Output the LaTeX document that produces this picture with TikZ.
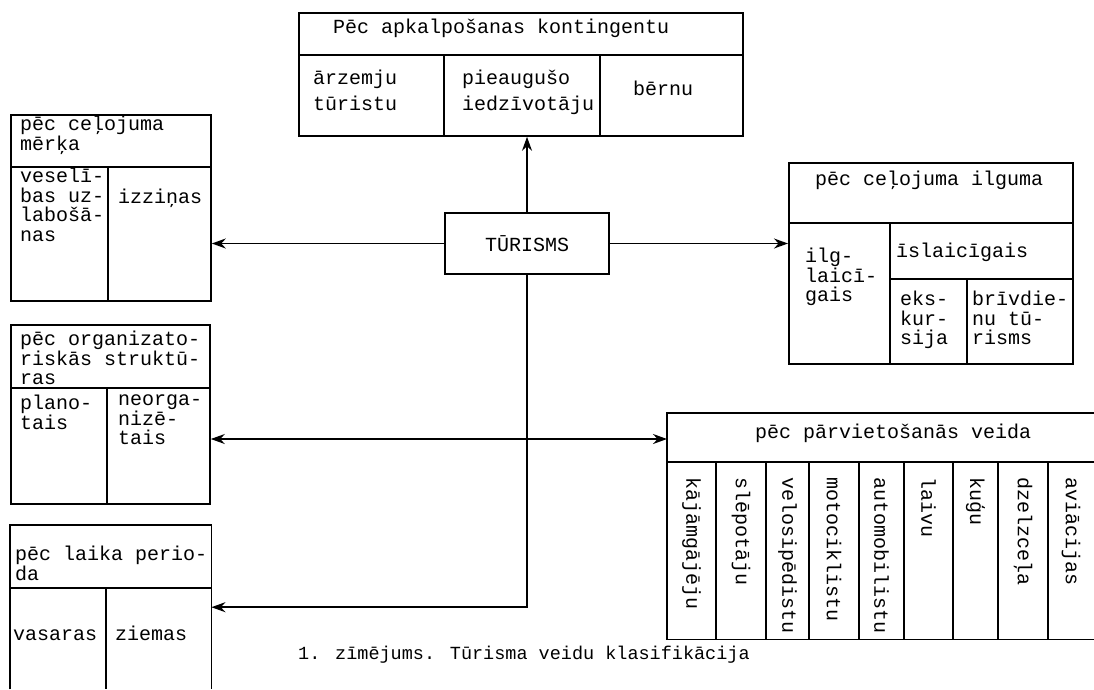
\documentclass[tikz,border=0pt]{standalone}
\usepackage{fontspec}
\setmainfont{Liberation Mono}
\usetikzlibrary{arrows.meta}
\newcommand{\tw}{\fontsize{20}{19.5}\selectfont}
\newcommand{\twcap}{\fontsize{18.5}{19.5}\selectfont}
\tikzset{
  >={Stealth[length=14pt,width=10pt]},
  frame/.style={draw, line width=1.8pt, inner sep=0pt, anchor=north west},
  openframe/.style={inner sep=0pt, anchor=north west},
  sep/.style={line width=1.8pt},
  link/.style={line width=1.8pt, ->},
  txt/.style={font=\tw, align=left, inner sep=0pt, anchor=north west,
    execute at begin node=\rule{0pt}{17pt}},
  vtxt/.style={font=\tw, inner sep=0pt, anchor=west, rotate=-90}
}
\begin{document}
\begin{tikzpicture}[x=1pt, y=-1pt]
  \useasboundingbox (0,0) rectangle (1094,689);

  \node[frame, minimum width=444pt, minimum height=123pt] (kont) at (298,12) {};
  \node[frame, minimum width=200pt, minimum height=186pt] (merkis) at (10,114) {};
  \node[frame, minimum width=199pt, minimum height=179pt] (organiz) at (10,324) {};
  \node[openframe, minimum width=201pt, minimum height=164pt] (laiks) at (10,525) {};
  \node[frame, minimum width=284pt, minimum height=201pt] (ilgums) at (788,162) {};
  \node[openframe, minimum width=427pt, minimum height=226pt] (parv) at (667,413) {};
  \node[draw, line width=1.8pt, font=\tw, minimum width=164pt, minimum height=61pt] (turisms) at (527,243.5) {TŪRISMS};

  \draw[sep] (laiks.south west) -- (laiks.north west) -- (laiks.north east) -- (laiks.south east);
  \draw[sep] (parv.north east) -- (parv.north west) -- (parv.south west) -- (parv.south east);

  \draw[sep] (298,55) -- (742,55);
  \draw[sep] (444,55) -- (444,135);
  \draw[sep] (600,55) -- (600,135);
  \draw[sep] (10,167) -- (210,167);
  \draw[sep] (108,167) -- (108,300);
  \draw[sep] (10,388) -- (209,388);
  \draw[sep] (107,388) -- (107,503);
  \draw[sep] (10,588) -- (211,588);
  \draw[sep] (106,588) -- (106,689);
  \draw[sep] (788,223) -- (1072,223);
  \draw[sep] (890,223) -- (890,363);
  \draw[sep] (890,279) -- (1072,279);
  \draw[sep] (967,279) -- (967,363);
  \draw[sep] (667,462) -- (1094,462);
  \foreach \xd in {716,766,809,859,904,953,998,1048}
    \draw[sep] (\xd,462) -- (\xd,639);

  \node[txt] (kontH) at (333,16) {Pēc apkalpošanas kontingentu};
  \node[txt] (arzemju) at (313,70) {ārzemju\\[6pt]tūristu};
  \node[txt] (pieaug) at (462,70) {pieaugušo\\[6pt]iedzīvotāju};
  \node[txt] (berni) at (633,78) {bērnu};

  \node[txt] (merkisH) at (20,116) {pēc ceļojuma\\mērķa};
  \node[txt] (veseliba) at (20,168) {veselī-\\bas uz-\\labošā-\\nas};
  \node[txt] (izzina) at (118,186) {izziņas};

  \node[txt] (organizH) at (20,331) {pēc organizato-\\riskās struktū-\\ras};
  \node[txt] (planots) at (20,395) {plano-\\tais};
  \node[txt] (neorg) at (118,395) {neorga-\\nizē-\\tais};

  \node[txt] (laiksH) at (15,546) {pēc laika perio-\\da};
  \node[txt] (vasara) at (13,623) {vasaras};
  \node[txt] (ziema) at (115,623) {ziemas};

  \node[txt] (ilgumsH) at (815,168) {pēc ceļojuma ilguma};
  \node[txt] (ilglaic) at (805,248) {ilg-\\laicī-\\gais};
  \node[txt] (islaic) at (896,240) {īslaicīgais};
  \node[txt] (ekskurs) at (900,291) {eks-\\kur-\\sija};
  \node[txt] (brivd) at (972,291) {brīvdie-\\nu tū-\\risms};

  \node[txt] (parvH) at (755,421) {pēc pārvietošanās veida};
  \foreach \xc/\vw [count=\i] in {691.5/kājāmgājēju, 741/slēpotāju, 787.5/velosipēdistu,
      834/motociklistu, 881.5/automobilistu, 928.5/laivu, 975.5/kuģu,
      1023/dzelzceļa, 1071/aviācijas}
    \node[vtxt] (veids\i) at (\xc,477) {\vw};

  \coordinate (mid) at (527,439);
  \draw[link] (turisms.north) -- (turisms.north |- kont.south);
  \draw[link] (turisms.west) -- (turisms.west -| merkis.east);
  \draw[link] (turisms.east) -- (turisms.east -| ilgums.west);
  \draw[link] (turisms.south) |- (laiks.east);
  \draw[link, <->] (mid -| organiz.east) -- (mid -| parv.west);

  \node[font=\twcap, inner sep=0pt, anchor=west] (caption) at (298,655) {1. zīmējums. Tūrisma veidu klasifikācija};
\end{tikzpicture}
\end{document}
